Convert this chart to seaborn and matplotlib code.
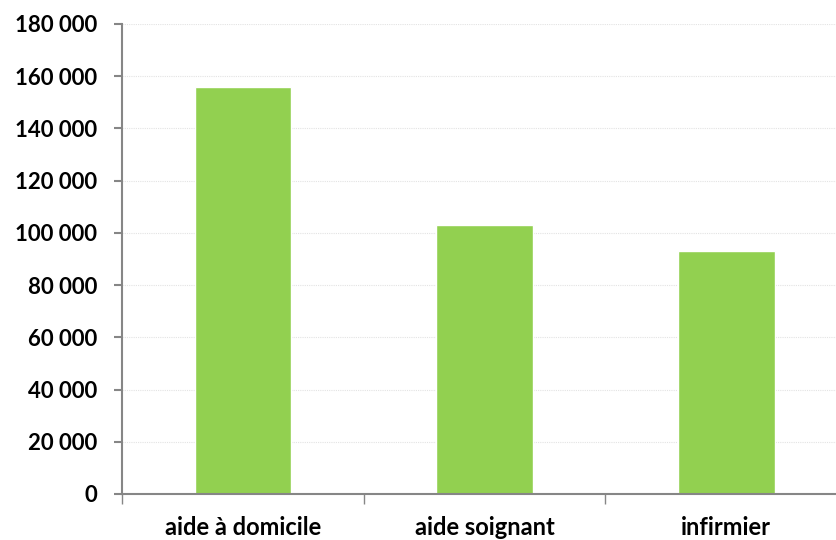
import matplotlib
matplotlib.use("Agg")
import matplotlib.pyplot as plt
import seaborn as sns
import pandas as pd
from matplotlib.ticker import FuncFormatter, FixedLocator

categories = ["aide à domicile", "aide soignant", "infirmier"]
values = [156000, 103000, 93000]
yticks = list(range(0, 180001, 20000))

sns.set_theme(style="white")
plt.rcParams['font.family'] = ['Lato', 'DejaVu Sans']

df = pd.DataFrame({"cat": categories, "val": values})

fig = plt.figure(figsize=(8.37, 5.4), dpi=100)
ax = fig.add_axes([122/837, (540-494)/540, 725/837, 470/540])

sns.barplot(data=df, x="cat", y="val", color="#92D050", saturation=1,
            width=0.4, ax=ax)

ax.set_xlim(-0.5, 2.5)
ax.set_ylim(0, 180000)
ax.set_yticks(yticks)
ax.yaxis.set_major_formatter(FuncFormatter(lambda v, p: f"{int(v):,}".replace(",", " ")))
ax.grid(axis="y", color="#e3e3e3", linestyle=(0, (1, 1)), linewidth=0.8)
ax.set_axisbelow(True)

for s in ["top", "right"]:
    ax.spines[s].set_visible(False)
for s in ["left", "bottom"]:
    ax.spines[s].set_color("#868686")
    ax.spines[s].set_linewidth(1.5)

ax.tick_params(axis="y", which="major", left=True, length=6, width=1.5,
               color="#868686", labelsize=16, pad=12)
ax.tick_params(axis="x", which="major", bottom=False, labelsize=17, pad=10)
ax.xaxis.set_minor_locator(FixedLocator([-0.5, 0.5, 1.5, 2.5]))
ax.tick_params(axis="x", which="minor", bottom=True, length=7, width=1,
               color="#868686", direction="out")

for lbl in ax.get_xticklabels() + ax.get_yticklabels():
    lbl.set_fontweight("bold")
    lbl.set_color("black")

ax.set_xlabel("")
ax.set_ylabel("")

fig.savefig("out.png", dpi=100)
